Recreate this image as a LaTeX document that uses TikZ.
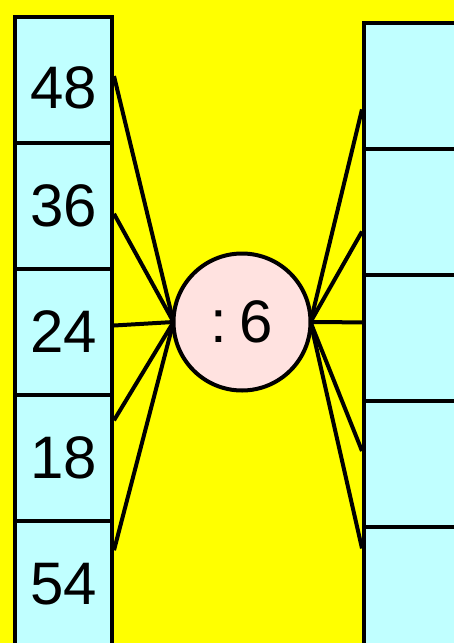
\documentclass[tikz,border=0pt]{standalone}
\usepackage{fontspec}
\setmainfont{Liberation Sans}
\usetikzlibrary{calc, positioning}
\definecolor{bgyellow}{RGB}{255,255,0}
\definecolor{cellcyan}{RGB}{192,255,255}
\definecolor{divpink}{RGB}{255,226,224}
\begin{document}
\begin{tikzpicture}[x=1pt, y=-1pt,
        cell/.style={draw, line width=4pt, fill=cellcyan, rectangle, inner sep=0pt,
            minimum width=97pt, minimum height=126pt, font=\fontsize{60}{72}\selectfont},
        rcell/.style={cell, minimum width=116pt},
        divider/.style={draw, line width=4pt, fill=divpink, circle, inner sep=0pt,
            minimum size=137pt, font=\fontsize{60}{72}\selectfont},
        link/.style={line width=4pt}]
            \useasboundingbox (0, 0) rectangle (454, 643);
            \clip (0, 0) rectangle (454, 643);
            \fill[bgyellow] (0, 0) rectangle (454, 643);
            % left column
            \node[cell] (l1) at (63.5, 80) {\raisebox{-8pt}[\height][0pt]{48}};
            \node[cell] (l2) at (63.5, 206) {36};
            \node[cell] (l3) at (63.5, 332) {24};
            \node[cell] (l4) at (63.5, 458) {18};
            \node[cell] (l5) at (63.5, 584) {54};
            % right column
            \node[rcell] (r1) at (422, 86) {};
            \node[rcell] (r2) at (422, 212) {};
            \node[rcell] (r3) at (422, 338) {};
            \node[rcell] (r4) at (422, 464) {};
            \node[rcell] (r5) at (422, 590) {};
            \coordinate (c) at (242, 322);
            % connectors
            \draw[link] ($(l1.north east)!0.47!(l1.south east)$) -- ($(c)+(-68.5, 0)$);
            \draw[link] ($(l2.north east)!0.56!(l2.south east)$) -- ($(c)+(-68.5, 0)$);
            \draw[link] ($(l3.north east)!0.45!(l3.south east)$) -- ($(c)+(-68.5, 0)$);
            \draw[link] ($(l4.north east)!0.21!(l4.south east)$) -- ($(c)+(-68.5, 0)$);
            \draw[link] ($(l5.north east)!0.24!(l5.south east)$) -- ($(c)+(-68.5, 0)$);
            \draw[link] ($(c)+(68.5, 0)$) -- ($(r1.north west)!0.68!(r1.south west)$);
            \draw[link] ($(c)+(68.5, 0)$) -- ($(r2.north west)!0.65!(r2.south west)$);
            \draw[link] ($(c)+(68.5, 0)$) -- ($(r3.north west)!0.38!(r3.south west)$);
            \draw[link] ($(c)+(68.5, 0)$) -- ($(r4.north west)!0.40!(r4.south west)$);
            \draw[link] ($(c)+(68.5, 0)$) -- ($(r5.north west)!0.18!(r5.south west)$);
            \node[divider] (d) at (c) {:\hspace{12pt}6};
        \end{tikzpicture}
\end{document}
